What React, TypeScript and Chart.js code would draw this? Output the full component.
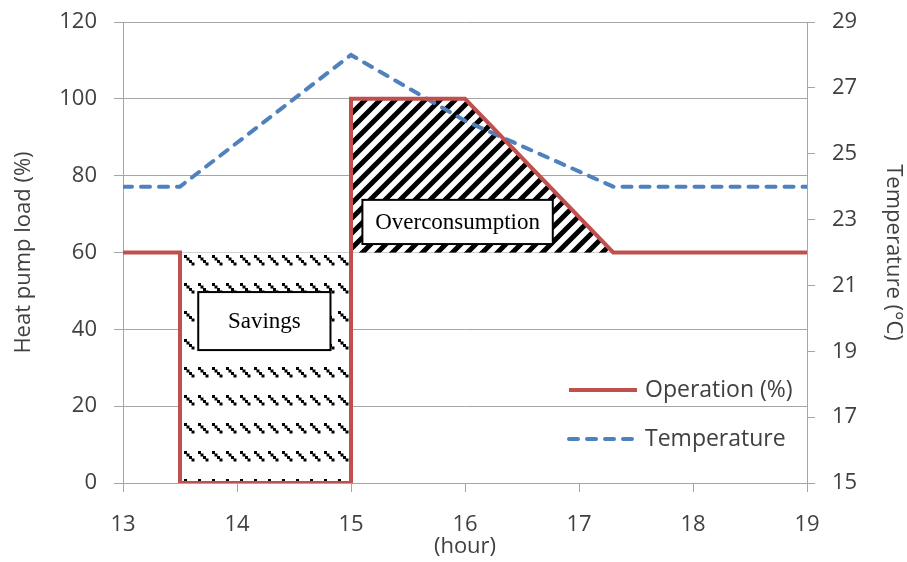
import { useEffect, useRef } from 'react';
import { Chart, registerables } from 'chart.js';

Chart.register(...registerables);

// Operation of the heat pump (% load) over the afternoon
const opHours = [13, 13.5, 13.5, 15, 15, 16, 17.3, 19];
const opLoad = [60, 60, 0, 0, 100, 100, 60, 60];

// Indoor temperature (°C)
const tempHours = [13, 13.5, 15, 16, 17.3, 19];
const tempValues = [24, 24, 28, 26, 24, 24];

// Hatched areas
const savingsHours = [13.5, 15];
const savingsLoad = [60, 60];
const overHours = [15, 16, 17.3];
const overLoad = [100, 100, 60];

// Text boxes: label, hour span, load span
const boxLabels = ['Savings', 'Overconsumption'];
const boxHours = [[13.66, 14.82], [15.1, 16.77]];
const boxLoads = [[49.7, 34.6], [73.7, 62.2]];

const legendNames = ['Operation (%)', 'Temperature'];

const RED = '#c0504d';
const BLUE = '#4f81bd';
const GRID = '#a6a6a6';
const TEXT = '#404040';
const FONT = "'Open Sans', sans-serif";

function stripePattern(): CanvasPattern | string {
  const c = document.createElement('canvas');
  c.width = 15;
  c.height = 15;
  const g = c.getContext('2d');
  if (!g) return '#000';
  g.fillStyle = '#fff';
  g.fillRect(0, 0, 15, 15);
  g.strokeStyle = '#000';
  g.lineWidth = 5;
  g.beginPath();
  g.moveTo(-5, 20);
  g.lineTo(20, -5);
  g.moveTo(-5, 5);
  g.lineTo(5, -5);
  g.moveTo(10, 20);
  g.lineTo(20, 10);
  g.stroke();
  return g.createPattern(c, 'repeat') || '#000';
}

function dashPattern(): CanvasPattern | string {
  const c = document.createElement('canvas');
  c.width = 14;
  c.height = 28;
  const g = c.getContext('2d');
  if (!g) return '#000';
  g.fillStyle = '#fff';
  g.fillRect(0, 0, 14, 28);
  g.fillStyle = '#000';
  for (let k = 0; k < 4; k++) {
    g.fillRect(2 + 2.5 * k, 3 + 2.5 * k, 3, 3);
  }
  return g.createPattern(c, 'repeat') || '#000';
}

const pts = (xs: number[], ys: number[]) => xs.map((x, i) => ({ x, y: ys[i] }));

// custom legend inside the plot area, bottom right
const legendPlugin = {
  id: 'insideLegend',
  afterDraw(chart: any) {
    const { ctx, chartArea } = chart;
    const rows = [chartArea.bottom - 93, chartArea.bottom - 44];
    ctx.save();
    rows.forEach((y, i) => {
      ctx.beginPath();
      ctx.lineWidth = 4;
      ctx.strokeStyle = i === 0 ? RED : BLUE;
      ctx.lineCap = i === 0 ? 'butt' : 'round';
      ctx.setLineDash(i === 0 ? [] : [9, 9]);
      ctx.moveTo(chartArea.right - 238, y);
      ctx.lineTo(chartArea.right - 170, y);
      ctx.stroke();
      ctx.setLineDash([]);
      ctx.fillStyle = TEXT;
      ctx.font = `23px ${FONT}`;
      ctx.textBaseline = 'middle';
      ctx.textAlign = 'left';
      ctx.fillText(legendNames[i], chartArea.right - 162, y);
    });
    ctx.restore();
  },
};

// boxed annotations
const boxPlugin = {
  id: 'textBoxes',
  afterDatasetsDraw(chart: any) {
    const { ctx, scales } = chart;
    ctx.save();
    boxLabels.forEach((label, i) => {
      const x0 = scales.x.getPixelForValue(boxHours[i][0]);
      const x1 = scales.x.getPixelForValue(boxHours[i][1]);
      const y0 = scales.y.getPixelForValue(boxLoads[i][0]);
      const y1 = scales.y.getPixelForValue(boxLoads[i][1]);
      ctx.fillStyle = '#fff';
      ctx.fillRect(x0, y0, x1 - x0, y1 - y0);
      ctx.strokeStyle = '#000';
      ctx.lineWidth = 2;
      ctx.strokeRect(x0, y0, x1 - x0, y1 - y0);
      ctx.fillStyle = '#000';
      ctx.font = "23px 'Liberation Serif', serif";
      ctx.textAlign = 'center';
      ctx.textBaseline = 'middle';
      ctx.fillText(label, (x0 + x1) / 2, (y0 + y1) / 2 + 1);
    });
    ctx.restore();
  },
};

export default function App() {
  const canvasRef = useRef<HTMLCanvasElement>(null);

  useEffect(() => {
    if (!canvasRef.current) return;
    const chart = new Chart(canvasRef.current, {
      type: 'line',
      data: {
        datasets: [
          {
            label: legendNames[0],
            data: pts(opHours, opLoad),
            borderColor: RED,
            borderWidth: 4,
            pointRadius: 0,
            fill: false,
            tension: 0,
            yAxisID: 'y',
          },
          {
            label: legendNames[1],
            data: pts(tempHours, tempValues),
            borderColor: BLUE,
            borderWidth: 4,
            borderDash: [9, 9],
            borderCapStyle: 'round',
            pointRadius: 0,
            fill: false,
            tension: 0,
            yAxisID: 'y1',
          },
          {
            label: 'Savings',
            data: pts(savingsHours, savingsLoad),
            borderWidth: 0,
            pointRadius: 0,
            backgroundColor: dashPattern(),
            fill: 'origin',
            yAxisID: 'y',
          },
          {
            label: 'Overconsumption',
            data: pts(overHours, overLoad),
            borderWidth: 0,
            pointRadius: 0,
            backgroundColor: stripePattern(),
            fill: { value: 60 },
            yAxisID: 'y',
          },
        ],
      } as any,
      options: {
        animation: false,
        responsive: true,
        maintainAspectRatio: false,
        layout: { padding: { top: 22, left: 0, right: 0, bottom: 0 } },
        plugins: {
          legend: { display: false },
          tooltip: { enabled: false },
        },
        scales: {
          x: {
            type: 'linear',
            min: 13,
            max: 19,
            afterFit: (s: any) => {
              s.height = 79;
            },
            ticks: { stepSize: 1, color: TEXT, padding: 20, font: { size: 22, family: FONT } },
            grid: { drawOnChartArea: false, tickLength: 9, color: GRID },
            border: { color: GRID },
            title: {
              display: true,
              text: '(hour)',
              color: TEXT,
              font: { size: 22, family: FONT },
              padding: { top: 0, bottom: 2 },
            },
          },
          y: {
            position: 'left',
            min: 0,
            max: 120,
            afterFit: (s: any) => {
              s.width = 123;
              s.paddingTop = 0;
              s.paddingBottom = 0;
            },
            ticks: { stepSize: 20, color: TEXT, padding: 17, font: { size: 22, family: FONT } },
            grid: { color: GRID, tickLength: 9 },
            border: { color: GRID },
            title: {
              display: true,
              text: 'Heat pump load (%)',
              color: TEXT,
              font: { size: 22, family: FONT },
              padding: { top: 11, bottom: 0 },
            },
          },
          y1: {
            position: 'right',
            min: 15,
            max: 29,
            afterFit: (s: any) => {
              s.width = 100;
              s.paddingTop = 0;
              s.paddingBottom = 0;
            },
            ticks: { stepSize: 2, color: TEXT, padding: 17, font: { size: 22, family: FONT } },
            grid: { drawOnChartArea: false, color: GRID, tickLength: 8 },
            border: { color: GRID },
            title: {
              display: true,
              text: 'Temperature (°C)',
              color: TEXT,
              font: { size: 22, family: FONT },
              padding: { top: 1, bottom: 0 },
            },
          },
        },
      } as any,
      plugins: [boxPlugin, legendPlugin],
    });
    return () => chart.destroy();
  }, []);

  return (
    <div style={{ position: 'absolute', left: 0, top: 0, width: 907, height: 562, background: '#fff' }}>
      <canvas ref={canvasRef} />
    </div>
  );
}
